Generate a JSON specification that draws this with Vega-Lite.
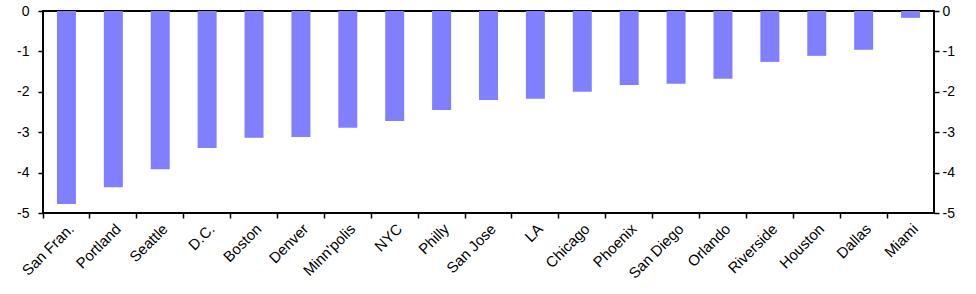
{
  "$schema": "https://vega.github.io/schema/vega-lite/v6.json",
  "width": 891,
  "height": 202,
  "autosize": {"type": "none"},
  "padding": {"left": 43, "top": 11, "right": 42, "bottom": 81},
  "background": "white",
  "config": {
    "view": {"stroke": "black", "strokeWidth": 2},
    "font": "Liberation Sans",
    "axis": {"labelFont": "Liberation Sans", "labelFontSize": 14, "labelColor": "black", "tickColor": "black", "grid": false, "domain": false, "title": null}
  },
  "data": {
    "values": [
      {"city": "San Fran.", "value": -4.78},
      {"city": "Portland", "value": -4.36},
      {"city": "Seattle", "value": -3.92},
      {"city": "D.C.", "value": -3.39},
      {"city": "Boston", "value": -3.14},
      {"city": "Denver", "value": -3.12},
      {"city": "Minn'polis", "value": -2.89},
      {"city": "NYC", "value": -2.72},
      {"city": "Philly", "value": -2.45},
      {"city": "San Jose", "value": -2.20},
      {"city": "LA", "value": -2.17},
      {"city": "Chicago", "value": -2.00},
      {"city": "Phoenix", "value": -1.83},
      {"city": "San Diego", "value": -1.80},
      {"city": "Orlando", "value": -1.68},
      {"city": "Riverside", "value": -1.26},
      {"city": "Houston", "value": -1.11},
      {"city": "Dallas", "value": -0.96},
      {"city": "Miami", "value": -0.17}
    ]
  },
  "layer": [
    {
      "mark": {"type": "bar", "color": "#8080FF", "width": {"band": 0.405}},
      "encoding": {
        "x": {"field": "city", "type": "nominal", "sort": null,
              "scale": {"paddingInner": 0, "paddingOuter": 0},
              "axis": {"orient": "bottom", "labelAngle": -45, "labelAlign": "right", "labelBaseline": "top", "labelPadding": 3, "labelFontSize": 15, "tickSize": 5, "tickWidth": 1.5, "bandPosition": 0}},
        "y": {"field": "value", "type": "quantitative",
              "scale": {"domain": [-5, 0], "nice": false, "zero": false},
              "axis": {"orient": "left", "values": [0, -1, -2, -3, -4, -5], "tickSize": 5, "tickWidth": 1.5, "labelPadding": 9, "labelExpr": "'' + datum.value"}}
      }
    },
    {
      "mark": {"type": "bar", "opacity": 0, "width": {"band": 0.405}},
      "encoding": {
        "x": {"field": "city", "type": "nominal", "sort": null,
              "scale": {"paddingInner": 0, "paddingOuter": 0},
              "axis": {"orient": "bottom", "labelAngle": -45, "labelAlign": "right", "labelBaseline": "top", "labelPadding": 3, "labelFontSize": 15, "tickSize": 5, "tickWidth": 1.5, "bandPosition": 0}},
        "y": {"field": "value", "type": "quantitative",
              "scale": {"domain": [-5, 0], "nice": false, "zero": false},
              "axis": {"orient": "right", "values": [0, -1, -2, -3, -4, -5], "tickSize": 5, "tickWidth": 1.5, "labelPadding": 3, "labelExpr": "'' + datum.value"}}
      }
    }
  ],
  "resolve": {"axis": {"y": "independent"}}
}
